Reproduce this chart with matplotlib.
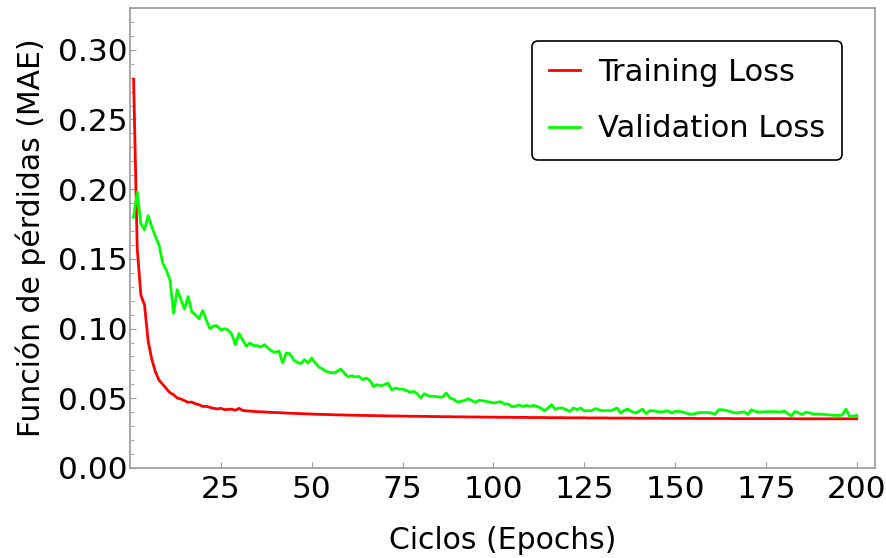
import matplotlib
matplotlib.use("Agg")
import matplotlib.pyplot as plt
import numpy as np

# MAE per epoch, training and validation
train_loss = [
	0.279, 0.157, 0.124, 0.117, 0.091, 0.078, 0.069, 0.063, 0.060, 0.057,
	0.054, 0.0526, 0.0502, 0.0495, 0.0483, 0.0471, 0.0473, 0.0461, 0.0454, 0.0442,
	0.0442, 0.0435, 0.0428, 0.0424, 0.0428, 0.0419, 0.0420, 0.0422, 0.0414, 0.0428,
	0.0413, 0.0410, 0.0408, 0.0406, 0.0404, 0.0403, 0.0402, 0.0400, 0.0399, 0.0398,
	0.0397, 0.0396, 0.0394, 0.0393, 0.0392, 0.0391, 0.0390, 0.0389, 0.0388, 0.0387,
	0.0386, 0.0385, 0.0384, 0.0384, 0.0383, 0.0382, 0.0381, 0.0381, 0.0380, 0.0379,
	0.0379, 0.0378, 0.0378, 0.0377, 0.0377, 0.0376, 0.0376, 0.0375, 0.0375, 0.0374,
	0.0374, 0.0373, 0.0373, 0.0373, 0.0372, 0.0372, 0.0371, 0.0371, 0.0371, 0.0370,
	0.0370, 0.0370, 0.0369, 0.0369, 0.0369, 0.0368, 0.0368, 0.0368, 0.0367, 0.0367,
	0.0367, 0.0367, 0.0366, 0.0366, 0.0366, 0.0366, 0.0365, 0.0365, 0.0365, 0.0365,
	0.0364, 0.0364, 0.0364, 0.0364, 0.0363, 0.0363, 0.0363, 0.0363, 0.0363, 0.0362,
	0.0362, 0.0362, 0.0362, 0.0362, 0.0361, 0.0361, 0.0361, 0.0361, 0.0361, 0.0360,
	0.0360, 0.0360, 0.0360, 0.0360, 0.0360, 0.0359, 0.0359, 0.0359, 0.0359, 0.0359,
	0.0359, 0.0358, 0.0358, 0.0358, 0.0358, 0.0358, 0.0358, 0.0358, 0.0357, 0.0357,
	0.0357, 0.0357, 0.0357, 0.0357, 0.0357, 0.0357, 0.0356, 0.0356, 0.0356, 0.0356,
	0.0356, 0.0356, 0.0356, 0.0356, 0.0356, 0.0355, 0.0355, 0.0355, 0.0355, 0.0355,
	0.0355, 0.0355, 0.0355, 0.0355, 0.0355, 0.0354, 0.0354, 0.0354, 0.0354, 0.0354,
	0.0354, 0.0354, 0.0354, 0.0354, 0.0354, 0.0354, 0.0354, 0.0354, 0.0354, 0.0354,
	0.0354, 0.0354, 0.0353, 0.0353, 0.0353, 0.0353, 0.0353, 0.0353, 0.0353, 0.0353,
	0.0353, 0.0353, 0.0353, 0.0353, 0.0353, 0.0353, 0.0353, 0.0353, 0.0353, 0.0353,
]
val_loss = [
	0.180, 0.198, 0.175, 0.171, 0.181, 0.173, 0.166, 0.160, 0.147, 0.142,
	0.135, 0.111, 0.128, 0.121, 0.114, 0.123, 0.112, 0.110, 0.107, 0.113,
	0.106, 0.100, 0.102, 0.102, 0.099, 0.100, 0.099, 0.096, 0.0885, 0.0965,
	0.0920, 0.0873, 0.0897, 0.0878, 0.0878, 0.0868, 0.0885, 0.0861, 0.0837, 0.0830,
	0.0839, 0.0753, 0.0825, 0.0820, 0.0777, 0.0758, 0.0749, 0.0777, 0.0753, 0.0789,
	0.0753, 0.0724, 0.0710, 0.0693, 0.0686, 0.0681, 0.0693, 0.0710, 0.0681, 0.0653,
	0.0662, 0.0653, 0.0657, 0.0634, 0.0645, 0.0629, 0.0586, 0.0598, 0.0590, 0.0598,
	0.0609, 0.0560, 0.0574, 0.0566, 0.0566, 0.0557, 0.0543, 0.0550, 0.0533, 0.0502,
	0.0533, 0.0519, 0.0514, 0.0514, 0.0509, 0.0509, 0.0538, 0.0502, 0.0495, 0.0473,
	0.0478, 0.0483, 0.0497, 0.0485, 0.0471, 0.0485, 0.0483, 0.0478, 0.0473, 0.0466,
	0.0471, 0.0476, 0.0459, 0.0459, 0.0442, 0.0442, 0.0452, 0.0442, 0.0449, 0.0442,
	0.0449, 0.0442, 0.0430, 0.0411, 0.0430, 0.0454, 0.0420, 0.0430, 0.0430, 0.0418,
	0.0406, 0.0430, 0.0418, 0.0430, 0.0411, 0.0411, 0.0411, 0.0426, 0.0418, 0.0411,
	0.0411, 0.0411, 0.0418, 0.0430, 0.0394, 0.0413, 0.0423, 0.0406, 0.0394, 0.0406,
	0.0423, 0.0390, 0.0411, 0.0411, 0.0406, 0.0402, 0.0406, 0.0411, 0.0394, 0.0406,
	0.0406, 0.0402, 0.0394, 0.0387, 0.0387, 0.0394, 0.0398, 0.0398, 0.0398, 0.0394,
	0.0387, 0.0418, 0.0418, 0.0413, 0.0406, 0.0398, 0.0394, 0.0400, 0.0402, 0.0385,
	0.0418, 0.0406, 0.0402, 0.0402, 0.0404, 0.0404, 0.0404, 0.0404, 0.0400, 0.0410,
	0.0390, 0.0375, 0.0406, 0.0396, 0.0384, 0.0400, 0.0396, 0.0387, 0.0387, 0.0387,
	0.0384, 0.0382, 0.0380, 0.0377, 0.0377, 0.0380, 0.0423, 0.0370, 0.0372, 0.0377,
]
epochs = np.arange(1, len(train_loss) + 1)

x_ticks = [25, 50, 75, 100, 125, 150, 175, 200]
y_ticks = [0.00, 0.05, 0.10, 0.15, 0.20, 0.25, 0.30]

plt.rcParams['font.family'] = 'DejaVu Sans'
fs_tick = 22.5
fs_lab = 21.5
fs_leg = 22
frame_col = '#9a9a9a'

fig = plt.figure(figsize=(8.86, 5.58), dpi=100)
ax = fig.add_axes([0.1467, 0.1613, 0.8409, 0.8244])

ax.plot(epochs, train_loss, color='#ff0000', lw=2, label='Training Loss')
ax.plot(epochs, val_loss, color='#00ff00', lw=2, label='Validation Loss')

ax.set_xlim(0, 205)
ax.set_ylim(0, 0.33)
ax.set_xticks(x_ticks)
ax.set_yticks(y_ticks)
ax.set_yticklabels(['%.2f' % v for v in y_ticks])
ax.set_yticks(np.arange(0, 0.331, 0.01), minor=True)

for s in ax.spines.values():
	s.set_color(frame_col)
	s.set_linewidth(1.2)
ax.tick_params(which='both', direction='in', color=frame_col, labelsize=fs_tick,
		top=False, right=False)
ax.tick_params(axis='y', which='major', length=4.5, pad=2)
ax.tick_params(axis='y', which='minor', length=3)
ax.tick_params(axis='x', which='major', length=4, pad=5)

ax.set_xlabel('Ciclos (Epochs)', fontsize=fs_lab, labelpad=16)
ax.set_ylabel('Función de pérdidas (MAE)', fontsize=fs_lab, labelpad=8)

leg = ax.legend(loc='upper right', bbox_to_anchor=(0.9557, 0.9283), borderaxespad=0,
		fontsize=fs_leg, handlelength=1.0, handletextpad=0.6, labelspacing=0.9,
		borderpad=0.55, fancybox=True, framealpha=1)
leg.get_frame().set_edgecolor('black')
leg.get_frame().set_linewidth(1.2)

plt.savefig('out.png', dpi=100)
